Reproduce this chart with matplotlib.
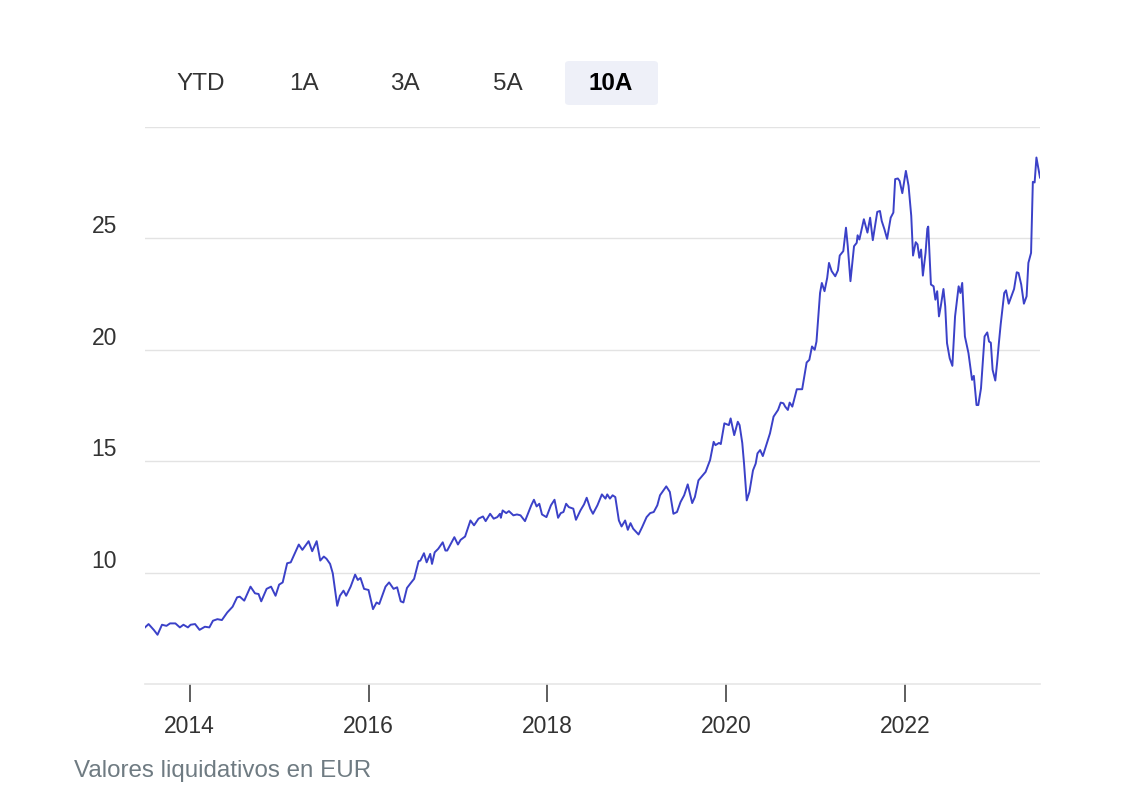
import matplotlib
matplotlib.use("Agg")
import matplotlib.pyplot as plt
from matplotlib.patches import FancyBboxPatch

plt.rcParams["font.family"] = ["Liberation Sans", "DejaVu Sans"]

# Fund net asset value (EUR)
years = [
    2013.50, 2013.54, 2013.60, 2013.64, 2013.69, 2013.74, 2013.78, 2013.84, 2013.89, 2013.93,
    2013.98, 2014.01, 2014.06, 2014.11, 2014.17, 2014.22, 2014.26, 2014.31, 2014.36, 2014.42,
    2014.48, 2014.53, 2014.56, 2014.61, 2014.68, 2014.73, 2014.77, 2014.80, 2014.86, 2014.91,
    2014.96, 2015.00, 2015.04, 2015.09, 2015.13, 2015.18, 2015.22, 2015.26, 2015.33, 2015.37,
    2015.42, 2015.46, 2015.50, 2015.53, 2015.57, 2015.60, 2015.65, 2015.68, 2015.72, 2015.75,
    2015.80, 2015.85, 2015.88, 2015.91, 2015.95, 2016.00, 2016.05, 2016.09, 2016.12, 2016.19,
    2016.23, 2016.28, 2016.32, 2016.36, 2016.39, 2016.43, 2016.47, 2016.51, 2016.56, 2016.58,
    2016.62, 2016.65, 2016.69, 2016.71, 2016.74, 2016.78, 2016.83, 2016.86, 2016.88, 2016.92,
    2016.96, 2017.00, 2017.03, 2017.08, 2017.14, 2017.18, 2017.23, 2017.28, 2017.31, 2017.36,
    2017.40, 2017.44, 2017.47, 2017.48, 2017.50, 2017.54, 2017.57, 2017.62, 2017.66, 2017.70,
    2017.75, 2017.82, 2017.85, 2017.88, 2017.91, 2017.94, 2017.99, 2018.04, 2018.08, 2018.12,
    2018.15, 2018.18, 2018.21, 2018.24, 2018.29, 2018.32, 2018.37, 2018.41, 2018.44, 2018.48,
    2018.51, 2018.56, 2018.61, 2018.65, 2018.67, 2018.70, 2018.73, 2018.76, 2018.80, 2018.83,
    2018.87, 2018.90, 2018.93, 2018.96, 2019.02, 2019.06, 2019.11, 2019.15, 2019.19, 2019.23,
    2019.26, 2019.33, 2019.37, 2019.41, 2019.45, 2019.49, 2019.53, 2019.57, 2019.62, 2019.65,
    2019.69, 2019.77, 2019.82, 2019.86, 2019.88, 2019.92, 2019.94, 2019.98, 2020.03, 2020.05,
    2020.09, 2020.13, 2020.15, 2020.18, 2020.20, 2020.23, 2020.26, 2020.30, 2020.33, 2020.35,
    2020.38, 2020.41, 2020.46, 2020.49, 2020.53, 2020.58, 2020.61, 2020.64, 2020.66, 2020.69,
    2020.71, 2020.74, 2020.79, 2020.85, 2020.90, 2020.93, 2020.96, 2020.99, 2021.01, 2021.05,
    2021.07, 2021.10, 2021.13, 2021.15, 2021.18, 2021.22, 2021.25, 2021.27, 2021.31, 2021.34,
    2021.36, 2021.39, 2021.43, 2021.46, 2021.47, 2021.49, 2021.54, 2021.58, 2021.61, 2021.64,
    2021.69, 2021.72, 2021.74, 2021.77, 2021.80, 2021.84, 2021.87, 2021.89, 2021.92, 2021.94,
    2021.97, 2022.01, 2022.04, 2022.07, 2022.09, 2022.12, 2022.14, 2022.16, 2022.18, 2022.20,
    2022.23, 2022.25, 2022.26, 2022.29, 2022.32, 2022.34, 2022.36, 2022.38, 2022.40, 2022.43,
    2022.45, 2022.47, 2022.50, 2022.53, 2022.56, 2022.60, 2022.62, 2022.64, 2022.67, 2022.71,
    2022.75, 2022.77, 2022.80, 2022.82, 2022.85, 2022.89, 2022.92, 2022.94, 2022.96, 2022.98,
    2023.01, 2023.03, 2023.05, 2023.07, 2023.11, 2023.13, 2023.16, 2023.19, 2023.22, 2023.25,
    2023.27, 2023.30, 2023.33, 2023.36, 2023.38, 2023.41, 2023.43, 2023.45, 2023.47, 2023.51,
]
nav = [
    7.54, 7.69, 7.42, 7.21, 7.66, 7.61, 7.72, 7.72, 7.54, 7.66,
    7.54, 7.66, 7.69, 7.43, 7.57, 7.54, 7.84, 7.91, 7.87, 8.21,
    8.47, 8.89, 8.92, 8.74, 9.37, 9.07, 9.04, 8.71, 9.27, 9.37,
    8.96, 9.46, 9.56, 10.42, 10.46, 10.91, 11.26, 11.02, 11.41, 10.96,
    11.41, 10.54, 10.72, 10.62, 10.39, 9.97, 8.51, 8.96, 9.19, 8.96,
    9.37, 9.91, 9.67, 9.76, 9.27, 9.22, 8.36, 8.66, 8.59, 9.37,
    9.56, 9.27, 9.34, 8.71, 8.66, 9.31, 9.52, 9.72, 10.51, 10.54,
    10.87, 10.46, 10.84, 10.39, 10.91, 11.07, 11.36, 10.99, 10.99, 11.29,
    11.59, 11.26, 11.47, 11.62, 12.34, 12.12, 12.42, 12.52, 12.31, 12.64,
    12.42, 12.49, 12.64, 12.46, 12.79, 12.67, 12.76, 12.57, 12.61, 12.57,
    12.31, 13.02, 13.27, 12.97, 13.09, 12.61, 12.49, 13.02, 13.27, 12.46,
    12.67, 12.72, 13.09, 12.94, 12.87, 12.37, 12.79, 13.06, 13.36, 12.87,
    12.64, 13.02, 13.51, 13.32, 13.51, 13.32, 13.47, 13.39, 12.34, 12.07,
    12.34, 11.92, 12.22, 11.97, 11.71, 12.04, 12.49, 12.67, 12.72, 13.02,
    13.47, 13.87, 13.62, 12.64, 12.72, 13.17, 13.47, 13.96, 13.12, 13.39,
    14.14, 14.52, 15.05, 15.87, 15.72, 15.82, 15.77, 16.70, 16.62, 16.92,
    16.17, 16.77, 16.62, 15.82, 14.89, 13.24, 13.62, 14.59, 14.89, 15.35,
    15.50, 15.23, 15.87, 16.25, 17.00, 17.30, 17.63, 17.60, 17.45, 17.30,
    17.63, 17.45, 18.23, 18.23, 19.43, 19.55, 20.15, 20.00, 20.37, 22.55,
    23.00, 22.63, 23.23, 23.90, 23.53, 23.30, 23.57, 24.23, 24.43, 25.48,
    24.65, 23.08, 24.65, 24.80, 25.14, 24.95, 25.86, 25.26, 25.93, 24.92,
    26.19, 26.23, 25.78, 25.41, 24.98, 25.93, 26.16, 27.66, 27.69, 27.58,
    27.03, 28.03, 27.36, 26.01, 24.23, 24.83, 24.73, 24.13, 24.50, 23.33,
    24.35, 25.44, 25.53, 22.93, 22.85, 22.25, 22.63, 21.50, 21.95, 22.73,
    21.95, 20.30, 19.62, 19.28, 21.50, 22.85, 22.55, 23.00, 20.60, 19.85,
    18.65, 18.83, 17.52, 17.52, 18.27, 20.60, 20.78, 20.37, 20.32, 19.10,
    18.62, 19.40, 20.30, 21.13, 22.55, 22.67, 22.07, 22.40, 22.73, 23.48,
    23.45, 22.93, 22.07, 22.40, 23.90, 24.35, 27.54, 27.51, 28.63, 27.73,
]

y_ticks = [10, 15, 20, 25]
grid_levels = [10, 15, 20, 25, 30]
x_ticks = [2014, 2016, 2018, 2020, 2022]
tabs = ["YTD", "1A", "3A", "5A", "10A"]
tab_x = [201, 304, 405, 508, 611]
active_tab = "10A"

W, H = 1124, 790
fig = plt.figure(figsize=(W / 100, H / 100), dpi=100)
ax = fig.add_axes([145 / W, 1 - 684 / H, (1040 - 145) / W, (684 - 127) / H])

for v in grid_levels:
    ax.axhline(v, color="#e3e3e3", lw=1.0, zorder=0)

ax.plot(years, nav, color="#3b41c8", lw=1.4, zorder=3)

ax.set_xlim(2013.50, 2023.51)
ax.set_ylim(5, 30)

for s in ["top", "right", "left"]:
    ax.spines[s].set_visible(False)
ax.spines["bottom"].set_color("#e6e6e6")
ax.spines["bottom"].set_linewidth(1.2)

ax.set_yticks(y_ticks)
ax.set_yticklabels([str(v) for v in y_ticks])
ax.tick_params(axis="y", length=0, pad=20, labelsize=16.5, labelcolor="#333333")
for lab in ax.get_yticklabels():
    lab.set_verticalalignment("bottom")

ax.set_xticks(x_ticks)
ax.set_xticklabels([str(v) for v in x_ticks])
ax.tick_params(axis="x", length=13, width=1.1, color="#333333", pad=9,
               labelsize=16.5, labelcolor="#333333")

# range selector buttons
box = FancyBboxPatch((565 / W, 1 - 105 / H), 93 / W, 44 / H,
                     boxstyle="round,pad=0,rounding_size=0.004",
                     transform=fig.transFigure, facecolor="#eef0f8",
                     edgecolor="none")
fig.add_artist(box)
for t, xp in zip(tabs, tab_x):
    active = t == active_tab
    fig.text(xp / W, 1 - 84 / H, t, ha="center", va="center", fontsize=17.5,
             color="#000000" if active else "#333333",
             fontweight="bold" if active else "normal")

fig.text(74 / W, 1 - 771 / H, "Valores liquidativos en EUR", ha="left",
         va="center", fontsize=17.4, color="#6f7b82")

fig.savefig("out.png", dpi=100, facecolor="white")
